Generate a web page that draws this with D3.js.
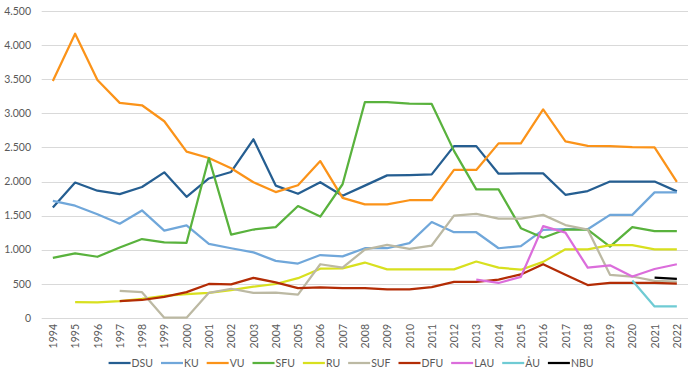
<!DOCTYPE html>
<html>
<head>
<meta charset="utf-8">
<script src="https://cdn.jsdelivr.net/npm/d3@7"></script>
<style>
  body { margin: 0; background: #fff; }
  text { font-family: Lato, "Open Sans", sans-serif; fill: #595959; }
</style>
</head>
<body>
<div id="chart"></div>
<script>
var years = d3.range(1994, 2023).map(String);

// null = no value that year
var DSU = [1620, 1985, 1865, 1815, 1920, 2135, 1775, 2045, 2140, 2620, 1940, 1820, 1990, 1790, 1940, 2090, 2095, 2105, 2520, 2520, 2115, 2120, 2120, 1805, 1860, 2000, 2000, 2000, 1855];
var KU = [1715, 1645, 1520, 1380, 1575, 1280, 1355, 1085, 1020, 960, 835, 795, 920, 900, 1020, 1020, 1095, 1405, 1255, 1255, 1020, 1050, 1290, 1300, 1300, 1510, 1510, 1840, 1840];
var VU = [3475, 4170, 3490, 3155, 3120, 2885, 2440, 2345, 2195, 1990, 1845, 1945, 2300, 1760, 1665, 1665, 1725, 1725, 2170, 2170, 2560, 2560, 3060, 2590, 2525, 2520, 2505, 2500, 1995];
var SFU = [880, 945, 895, 1030, 1155, 1105, 1100, 2345, 1220, 1295, 1330, 1640, 1485, 1960, 3165, 3165, 3145, 3140, 2450, 1885, 1885, 1315, 1175, 1295, 1295, 1045, 1330, 1270, 1270];
var RU = [null, 230, 225, 245, 275, 320, 345, 365, 405, 455, 495, 580, 720, 725, 810, 710, 710, 710, 710, 825, 735, 705, 820, 1005, 1005, 1065, 1065, 1005, 1005];
var SUF = [null, null, null, 395, 375, 0, 0, 365, 425, 365, 370, 340, 785, 735, 1000, 1070, 1010, 1060, 1500, 1525, 1455, 1455, 1510, 1360, 1295, 630, 605, 540, 530];
var DFU = [null, null, null, 245, 260, 305, 375, 495, 490, 585, 520, 435, 445, 435, 435, 415, 415, 450, 525, 525, 560, 635, 785, 630, 480, 510, 510, 510, 500];
var LAU = [null, null, null, null, null, null, null, null, null, null, null, null, null, null, null, null, null, null, null, 560, 510, 600, 1345, 1250, 735, 770, 605, 715, 785];
var AU = [null, null, null, null, null, null, null, null, null, null, null, null, null, null, null, null, null, null, null, null, null, null, null, null, null, null, 545, 165, 165];
var NBU = [null, null, null, null, null, null, null, null, null, null, null, null, null, null, null, null, null, null, null, null, null, null, null, null, null, null, null, 590, 570];

var seriesNames = ["DSU", "KU", "VU", "SFU", "RU", "SUF", "DFU", "LAU", "ÅU", "NBU"];
var seriesValues = [DSU, KU, VU, SFU, RU, SUF, DFU, LAU, AU, NBU];
var colors = ["#255e91", "#70a7da", "#fb9319", "#59b23d", "#d8e01f", "#bcb9a3", "#b32c05", "#db6ddb", "#6fcbd4", "#000000"];
var yTicks = [0, 500, 1000, 1500, 2000, 2500, 3000, 3500, 4000, 4500];

var width = 700, height = 379;

var svg = d3.select("#chart").append("svg")
  .attr("width", width)
  .attr("height", height);

var x = d3.scalePoint()
  .domain(years)
  .range([41.7, 688])
  .padding(0.5);

var y = d3.scaleLinear()
  .domain([0, 4500])
  .range([317.7, 11.3]);

var locale = d3.formatLocale({ decimal: ",", thousands: ".", grouping: [3], currency: ["", ""] });
var fmt = locale.format(",");

// gridlines
svg.append("g")
  .selectAll("line")
  .data(yTicks)
  .enter()
  .append("line")
  .attr("x1", 41.7)
  .attr("x2", 688)
  .attr("y1", function(d) { return Math.round(y(d)) + 0.5; })
  .attr("y2", function(d) { return Math.round(y(d)) + 0.5; })
  .attr("stroke", "#d9d9d9")
  .attr("stroke-width", 1);

// y axis labels
var yAxis = svg.append("g")
  .attr("transform", "translate(36,0)")
  .call(d3.axisLeft(y).tickValues(yTicks).tickFormat(fmt).tickSize(0).tickPadding(5));
yAxis.select(".domain").remove();
yAxis.selectAll("text")
  .style("font-size", "10.5px")
  .style("font-family", "Lato, sans-serif")
  .attr("fill", "#595959");

// x axis labels
var xAxis = svg.append("g")
  .attr("transform", "translate(0,318)")
  .call(d3.axisBottom(x).tickSize(0).tickPadding(0));
xAxis.select(".domain").remove();
xAxis.selectAll("text")
  .style("font-size", "10.5px")
  .style("font-family", "Lato, sans-serif")
  .attr("fill", "#595959")
  .attr("text-anchor", "end")
  .attr("transform", "translate(0,6) rotate(-90)")
  .attr("x", 0)
  .attr("y", 0)
  .attr("dy", "0.35em");

// lines
var line = d3.line()
  .defined(function(d) { return d != null; })
  .x(function(d, i) { return x(years[i]); })
  .y(function(d) { return y(d); });

svg.append("g")
  .selectAll("path")
  .data(seriesValues)
  .enter()
  .append("path")
  .attr("d", line)
  .attr("fill", "none")
  .attr("stroke", function(d, i) { return colors[i]; })
  .attr("stroke-width", 2.25)
  .attr("stroke-linejoin", "round");

// legend
var legend = svg.append("g");
var cursor = 0;
seriesNames.forEach(function(name, i) {
  var item = legend.append("g").attr("transform", "translate(" + cursor + ",0)");
  item.append("line")
    .attr("x1", 0).attr("x2", 22)
    .attr("y1", 0).attr("y2", 0)
    .attr("stroke", colors[i])
    .attr("stroke-width", 2.25);
  var t = item.append("text")
    .attr("x", 23)
    .attr("dy", "0.35em")
    .style("font-size", "10.5px")
    .text(name);
  cursor += 23 + t.node().getComputedTextLength() + 8;
});
cursor -= 8;
legend.attr("transform", "translate(" + (351 - cursor / 2) + ",363)");
</script>
</body>
</html>
